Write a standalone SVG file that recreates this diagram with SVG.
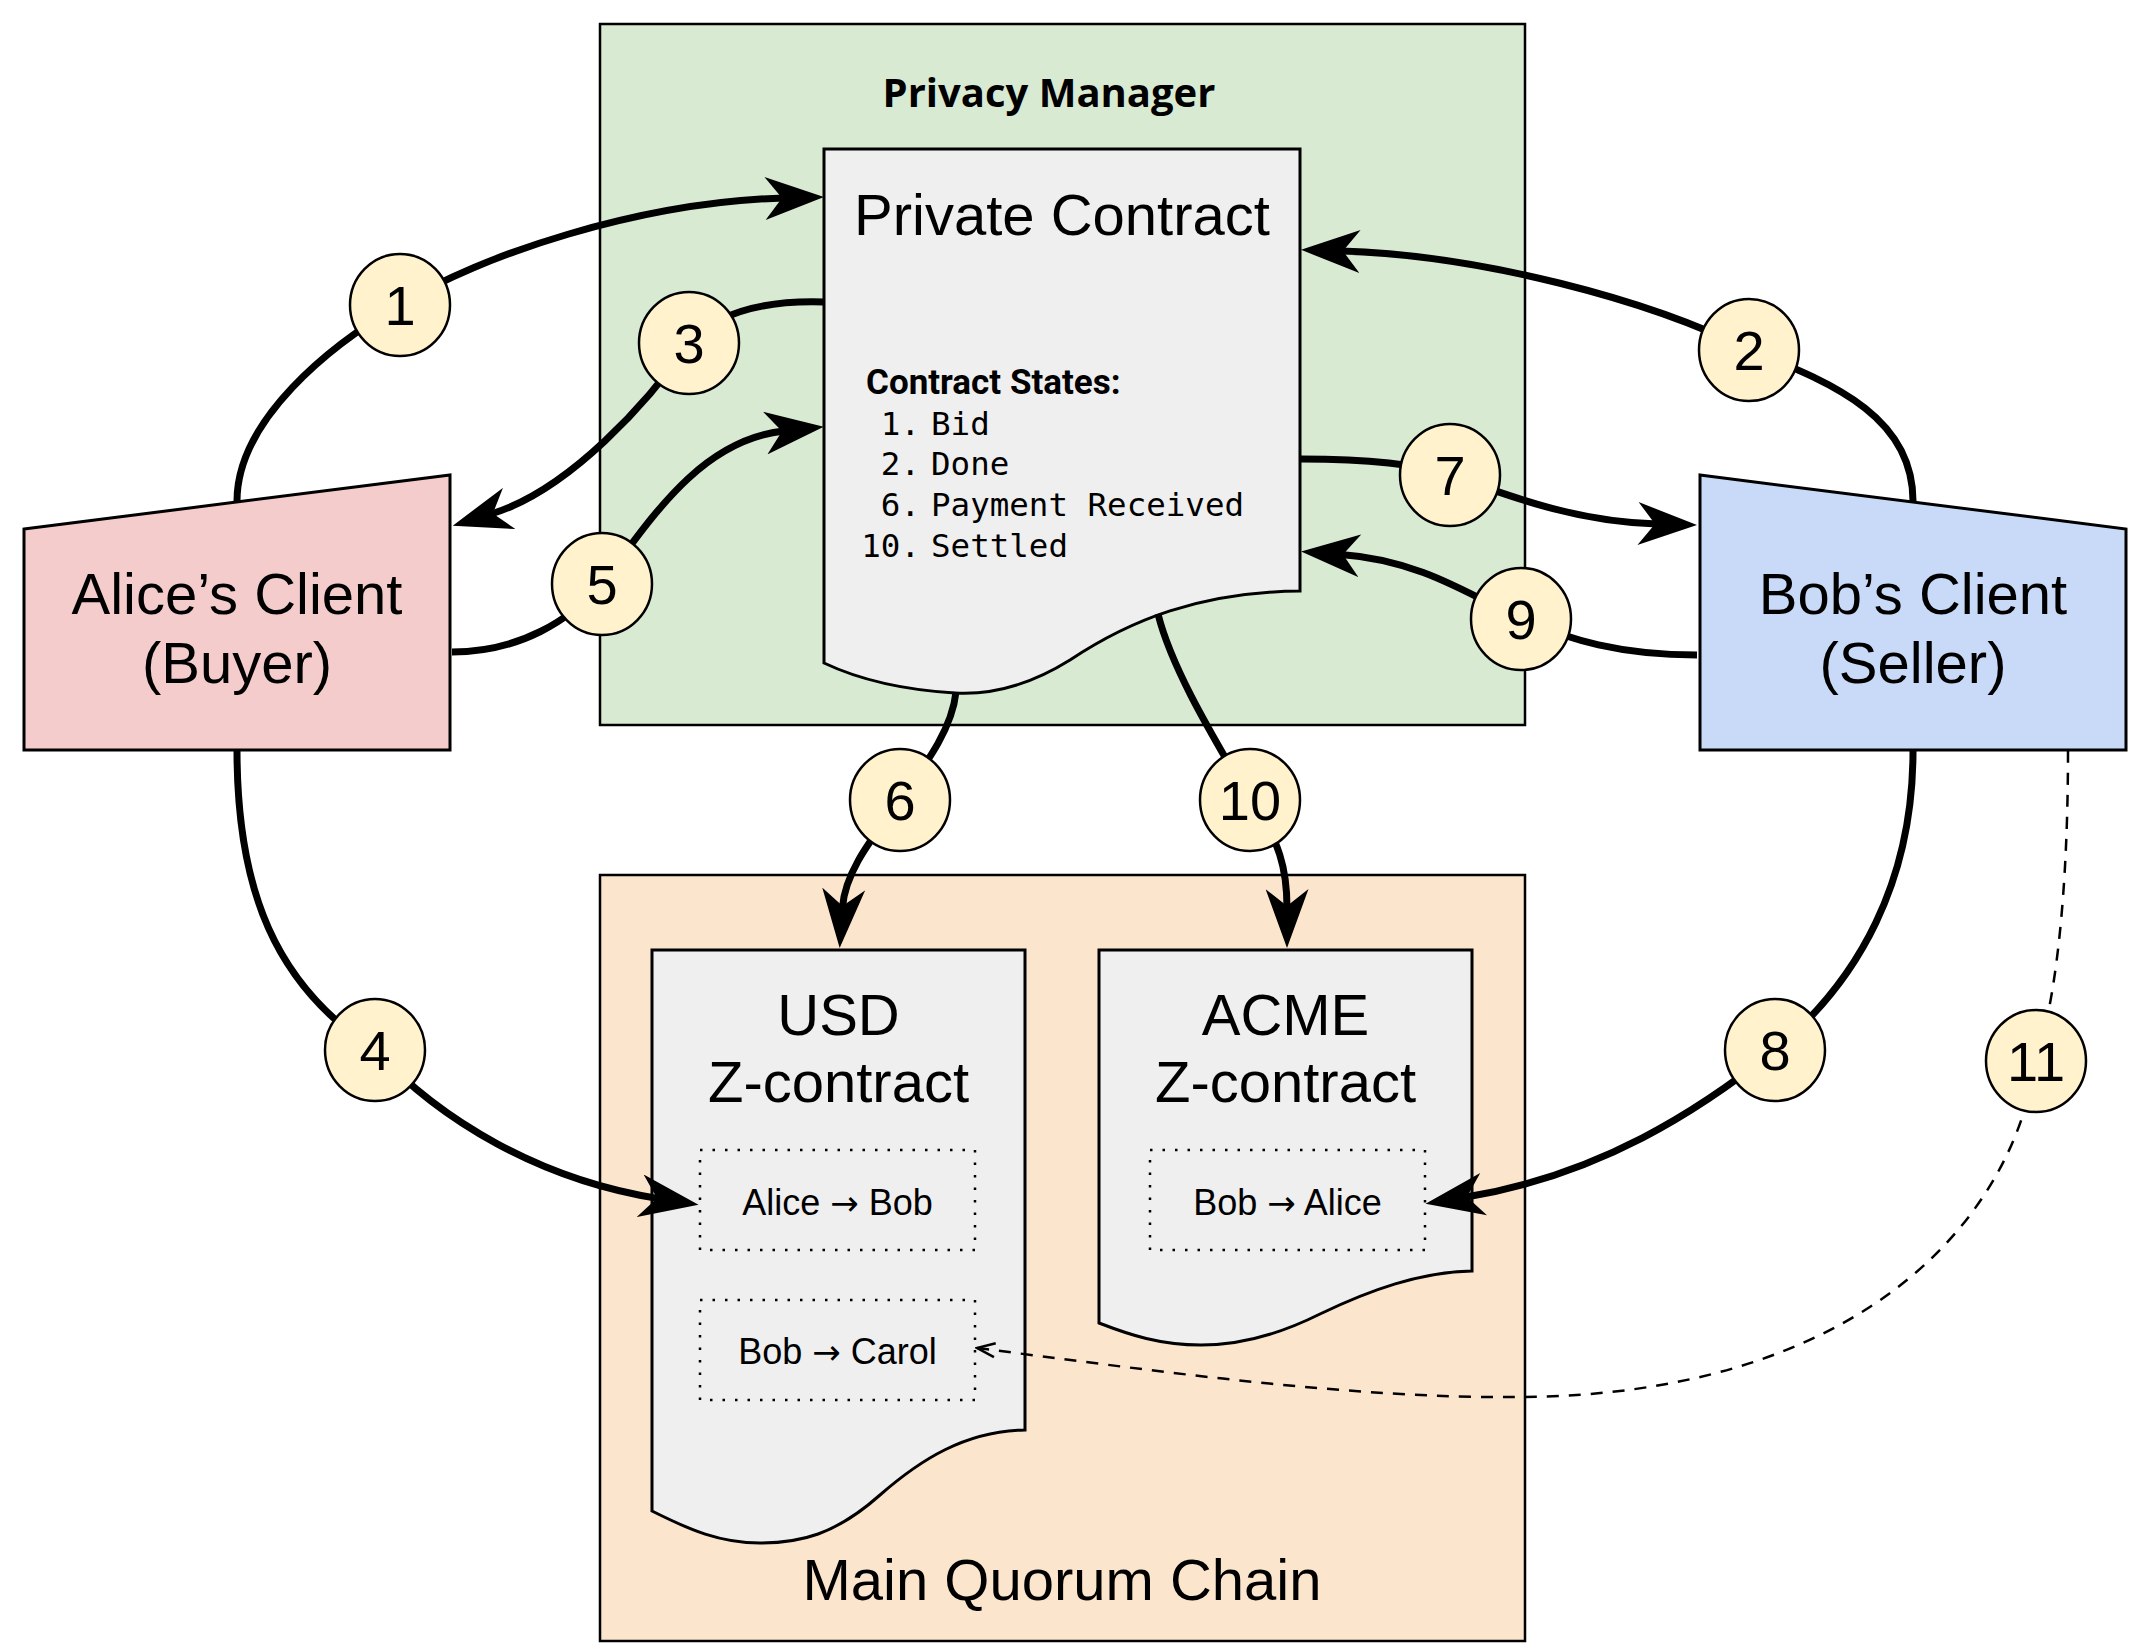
<svg xmlns="http://www.w3.org/2000/svg" width="2141" height="1650" viewBox="0 0 2141 1650">
<defs>
<style>
.cont{stroke:#000;stroke-width:2.5}
.shape{stroke:#000;stroke-width:3}
.lbl{font-family:"Liberation Sans",Arial,sans-serif;font-size:58px;fill:#000;text-anchor:middle}
.small{font-family:"Liberation Sans",Arial,sans-serif;font-size:36px;fill:#000;text-anchor:middle}
.ar{font-family:"DejaVu Sans",sans-serif;font-size:34px}
.badge ellipse{fill:#fff2cc;stroke:#000;stroke-width:2.5}
.badge text{font-family:"Liberation Sans",Arial,sans-serif;font-size:56px;fill:#000;text-anchor:middle}
.conn{fill:none;stroke:#000;stroke-width:7;marker-end:url(#arr)}
.dash{fill:none;stroke:#000;stroke-width:2.5;stroke-dasharray:12 10;marker-end:url(#arrs)}
.dot{fill:none;stroke:#000;stroke-width:2.5;stroke-dasharray:2.5 10}
.mono{font-family:"DejaVu Sans Mono",monospace;font-size:32.5px;fill:#000}
</style>
<marker id="arr" markerUnits="userSpaceOnUse" viewBox="0 0 59 43" markerWidth="59" markerHeight="43" refX="19" refY="21.5" orient="auto">
<path d="M59,21.5 L0,0 L17,21.5 L0,43 Z" fill="#000"/>
</marker>
<marker id="arrs" markerUnits="userSpaceOnUse" viewBox="0 0 22 18" markerWidth="22" markerHeight="18" refX="20" refY="9" orient="auto">
<path d="M2,2 L20,9 L2,16" fill="none" stroke="#000" stroke-width="2.5"/>
</marker>
</defs>

<g id="privacy-manager">
<rect x="600" y="24" width="925" height="701" fill="#d9ead3" class="cont"/>
<text x="1049" y="107" font-family="'Open Sans',sans-serif" font-weight="bold" font-size="40" text-anchor="middle">Privacy Manager</text>
</g>

<g id="main-quorum-chain">
<rect x="600" y="875" width="925" height="766" fill="#fce5cd" class="cont"/>
<text x="1062" y="1600" class="lbl">Main Quorum Chain</text>
</g>

<g id="private-contract">
<path d="M824,149 H1300 V591 C1200,592 1130,620 1070,660 C1030,685 990,695 955,693 C905,690 860,680 824,663 Z" fill="#efefef" class="shape"/>
<text x="1062" y="235" class="lbl">Private Contract</text>
<text x="866" y="394" font-family="Roboto,'Liberation Sans',sans-serif" font-weight="bold" font-size="35">Contract States:</text>
<text class="mono" x="920" y="435" text-anchor="end">1.</text>
<text class="mono" x="931" y="435">Bid</text>
<text class="mono" x="920" y="475" text-anchor="end">2.</text>
<text class="mono" x="931" y="475">Done</text>
<text class="mono" x="920" y="516" text-anchor="end">6.</text>
<text class="mono" x="931" y="516">Payment Received</text>
<text class="mono" x="920" y="557" text-anchor="end">10.</text>
<text class="mono" x="931" y="557">Settled</text>
</g>

<g id="alice-client">
<path d="M24,529 L450,475 L450,750 L24,750 Z" fill="#f4cccc" class="shape"/>
<text x="237" y="614" class="lbl">Alice’s Client</text>
<text x="237" y="683" class="lbl">(Buyer)</text>
</g>

<g id="bob-client">
<path d="M1700,475 L2126,529 L2126,750 L1700,750 Z" fill="#c9daf8" class="shape"/>
<text x="1913" y="614" class="lbl">Bob’s Client</text>
<text x="1913" y="683" class="lbl">(Seller)</text>
</g>

<g id="usd-zcontract">
<path d="M652,950 H1025 V1430 C965,1431 920,1460 880,1495 C835,1535 800,1543 760,1543 C720,1543 690,1530 652,1511 Z" fill="#efefef" class="shape"/>
<text x="838.5" y="1035" class="lbl">USD</text>
<text x="838.5" y="1102" class="lbl">Z-contract</text>
<g id="usd-alice-bob">
<rect x="700" y="1150" width="275" height="100" fill="none" class="dot"/>
<text x="837.5" y="1215" class="small">Alice <tspan class="ar">→</tspan> Bob</text>
</g>
<g id="usd-bob-carol">
<rect x="700" y="1300" width="275" height="100" fill="none" class="dot"/>
<text x="837.5" y="1364" class="small">Bob <tspan class="ar">→</tspan> Carol</text>
</g>
</g>

<g id="acme-zcontract">
<path d="M1099,950 H1472 V1271 C1420,1272 1370,1290 1320,1314 C1280,1334 1240,1345 1201,1345 C1160,1345 1130,1335 1099,1323 Z" fill="#efefef" class="shape"/>
<text x="1285.5" y="1035" class="lbl">ACME</text>
<text x="1285.5" y="1102" class="lbl">Z-contract</text>
<g id="acme-bob-alice">
<rect x="1150" y="1150" width="275" height="100" fill="none" class="dot"/>
<text x="1287.5" y="1215" class="small">Bob <tspan class="ar">→</tspan> Alice</text>
</g>
</g>

<g id="connectors">
<path id="c1" class="conn" d="M237,501 C237,420 330,345 400,305 C480,255 640,202 784,198"/>
<path id="c2" class="conn" d="M1913,501 C1913,420 1840,385 1749,350 C1650,300 1480,255 1341,251"/>
<path id="c3" class="conn" d="M824,302 C760,300 715,315 689,343 C650,400 570,490 491,514"/>
<path id="c4" class="conn" d="M237,750 C237,890 275,985 375,1050 C440,1120 540,1180 659,1198.6"/>
<path id="c5" class="conn" d="M452,652 C520,652 570,620 602,584 C650,520 700,440 784,431"/>
<path id="c6" class="conn" d="M956,692 C952,730 925,765 900,800 C875,835 845,870 842.4,908"/>
<path id="c7" class="conn" d="M1301,459 C1370,459 1420,465 1450,475 C1520,500 1580,522 1657,524"/>
<path id="c8" class="conn" d="M1913,751 C1913,880 1860,980 1775,1050 C1700,1110 1600,1175 1465,1197.3"/>
<path id="c9" class="conn" d="M1697,655 C1620,655 1570,640 1521,619 C1470,595 1420,560 1341,554.4"/>
<path id="c10" class="conn" d="M1158,614 C1172,670 1215,740 1250,800 C1280,840 1287,870 1287,908"/>
<path id="c11" class="dash" d="M2068,751 C2068,850 2062,980 2036,1061 C2010,1230 1850,1395 1520,1397 C1350,1399 1150,1370 977,1348"/>
</g>

<g id="badge-1" class="badge"><ellipse cx="400" cy="305" rx="50" ry="51"/><text x="400" y="325">1</text></g>
<g id="badge-2" class="badge"><ellipse cx="1749" cy="350" rx="50" ry="51"/><text x="1749" y="370">2</text></g>
<g id="badge-3" class="badge"><ellipse cx="689" cy="343" rx="50" ry="51"/><text x="689" y="363">3</text></g>
<g id="badge-4" class="badge"><ellipse cx="375" cy="1050" rx="50" ry="51"/><text x="375" y="1070">4</text></g>
<g id="badge-5" class="badge"><ellipse cx="602" cy="584" rx="50" ry="51"/><text x="602" y="604">5</text></g>
<g id="badge-6" class="badge"><ellipse cx="900" cy="800" rx="50" ry="51"/><text x="900" y="820">6</text></g>
<g id="badge-7" class="badge"><ellipse cx="1450" cy="475" rx="50" ry="51"/><text x="1450" y="495">7</text></g>
<g id="badge-8" class="badge"><ellipse cx="1775" cy="1050" rx="50" ry="51"/><text x="1775" y="1070">8</text></g>
<g id="badge-9" class="badge"><ellipse cx="1521" cy="619" rx="50" ry="51"/><text x="1521" y="639">9</text></g>
<g id="badge-10" class="badge"><ellipse cx="1250" cy="800" rx="50" ry="51"/><text x="1250" y="820">10</text></g>
<g id="badge-11" class="badge"><ellipse cx="2036" cy="1061" rx="50" ry="51"/><text x="2036" y="1081">11</text></g>
</svg>
